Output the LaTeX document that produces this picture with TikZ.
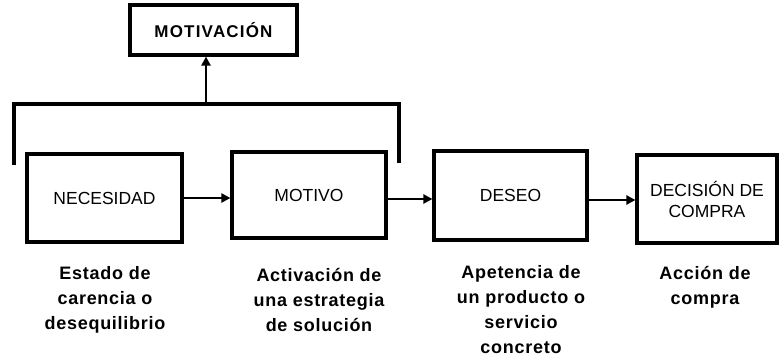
\documentclass[tikz,border=0pt]{standalone}
\usepackage{fontspec}
\setmainfont{Liberation Sans}
\usetikzlibrary{arrows.meta}
\begin{document}
\begin{tikzpicture}[x=1pt,y=-1pt,
  boxnode/.style={draw,line width=3.2pt,rectangle,align=center,font=\fontsize{17.5}{21}\selectfont},
  labelnode/.style={align=center,font=\fontsize{18}{25}\selectfont\bfseries\addfontfeature{LetterSpace=4}},
  conn/.style={line width=2.8pt,-{Triangle[length=9pt,width=9pt]}},
  brk/.style={line width=3.2pt}]
\useasboundingbox (0,0) rectangle (779,356);
\node[boxnode,minimum width=167pt,minimum height=50pt,font=\fontsize{17}{20}\selectfont\bfseries\addfontfeature{LetterSpace=7}] (mot) at (213.5,30) {MOTIVACIÓN};
\node[boxnode,minimum width=155pt,minimum height=88pt] (nec) at (104.5,198) {NECESIDAD};
\node[boxnode,minimum width=154pt,minimum height=86pt] (moti) at (309,195) {MOTIVO};
\node[boxnode,minimum width=153pt,minimum height=89pt] (des) at (510.5,195.5) {DESEO};
\node[boxnode,minimum width=140pt,minimum height=88pt] (dec) at (707,199) {DECISIÓN DE\\COMPRA};
\coordinate (bl) at (14,165);
\coordinate (tl) at (14,104);
\coordinate (tr) at (399,104);
\coordinate (br) at (399,163);
\coordinate (bm) at (206,104);
\draw[brk] (bl) -- (tl) -- (tr) -- (br);
\draw[conn] (bm) -- (bm |- mot.south);
\draw[conn] (nec.east |- 0,198) -- (moti.west |- 0,198);
\draw[conn] (moti.east |- 0,199) -- (des.west |- 0,199);
\draw[conn] (des.east |- 0,200) -- (dec.west |- 0,200);
\node[labelnode] (l1) at (105,300) {Estado de\\carencia o\\desequilibrio};
\node[labelnode] (l2) at (319,300) {Activación de\\una estrategia\\de solución};
\node[labelnode] (l3) at (521,309.5) {Apetencia de\\un producto o\\servicio\\concreto};
\node[labelnode] (l4) at (705,287.5) {Acción de\\compra};
\end{tikzpicture}
\end{document}
